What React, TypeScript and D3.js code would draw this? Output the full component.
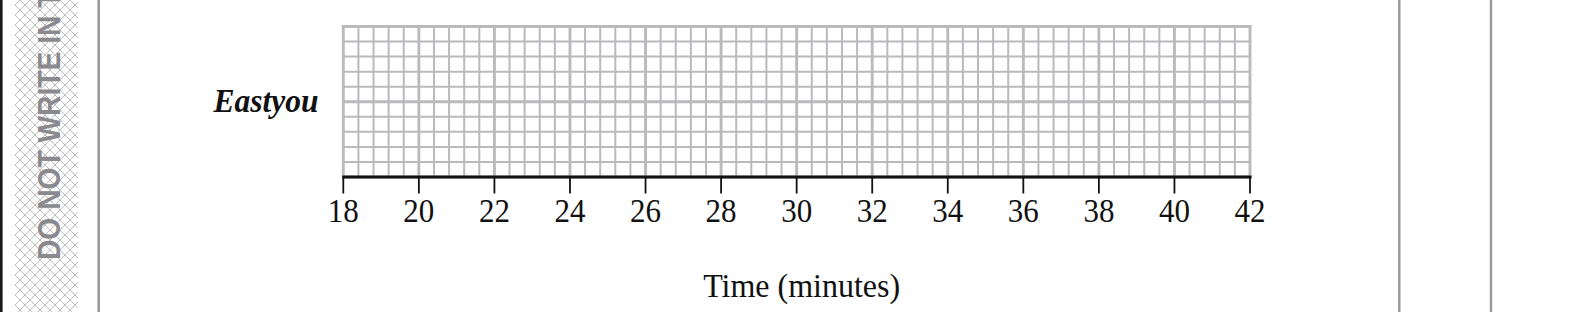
import React from "react";
import * as d3 from "d3";

const timeTicks = [18, 20, 22, 24, 26, 28, 30, 32, 34, 36, 38, 40, 42];
const minorPerMajor = 5;
const rowCount = 10;
const rowLabel = "Eastyou";
const xTitle = "Time (minutes)";
const marginText = "DO NOT WRITE IN THIS AREA";

const W = 1586;
const H = 312;

export default function App() {
  const x = d3.scaleLinear().domain([18, 42]).range([343.3, 1250]);
  const y = d3.scaleLinear().domain([0, rowCount]).range([177, 26.5]);
  const minorX = d3.range(18, 42.0001, 2 / minorPerMajor).filter(
    (v) => Math.abs(((v - 18) / 2) - Math.round((v - 18) / 2)) > 1e-6
  );
  const rows = d3.range(0, rowCount + 1);
  const grid = "#bababe";
  const serif = "'Liberation Serif', 'Times New Roman', serif";
  return (
    <svg
      width={W}
      height={H}
      style={{ position: "absolute", left: 0, top: 0, background: "#fff" }}
    >
      <defs>
        <pattern id="hatch" width="10" height="10" patternUnits="userSpaceOnUse">
          <path d="M0,0 L10,10 M10,0 L0,10" stroke="#bdbdc1" strokeWidth="1" />
        </pattern>
      </defs>
      <rect x={0} y={0} width={2.6} height={H} fill="#1a1a1a" />
      <rect x={15} y={0} width={63} height={H} fill="url(#hatch)" />
      <text
        transform="translate(59.5,260) rotate(-90) scale(0.91,1)"
        fontFamily="'Liberation Sans', Arial, sans-serif"
        fontWeight="bold"
        fontSize={31}
        fill="#8a8a8e"
      >
        {marginText}
      </text>
      <line x1={98.7} x2={98.7} y1={0} y2={H} stroke="#9a9a9e" strokeWidth={2.6} />
      <line x1={1399.3} x2={1399.3} y1={0} y2={H} stroke="#9a9a9e" strokeWidth={2.4} />
      <line x1={1491} x2={1491} y1={0} y2={H} stroke="#9a9a9e" strokeWidth={2.4} />

      {minorX.map((v, i) => (
        <line key={"mx" + i} x1={x(v)} x2={x(v)} y1={y(rowCount)} y2={y(0)} stroke={grid} strokeWidth={2} />
      ))}
      {rows.filter((r) => r % 5 !== 0).map((r) => (
        <line key={"my" + r} x1={x(18)} x2={x(42)} y1={y(r)} y2={y(r)} stroke={grid} strokeWidth={2} />
      ))}
      {timeTicks.map((t) => (
        <line key={"Mx" + t} x1={x(t)} x2={x(t)} y1={y(rowCount) - 1.4} y2={y(0)} stroke={grid} strokeWidth={2.9} />
      ))}
      {rows.filter((r) => r % 5 === 0).map((r) => (
        <line key={"My" + r} x1={x(18) - 1.4} x2={x(42) + 1.4} y1={y(r)} y2={y(r)} stroke={grid} strokeWidth={2.9} />
      ))}

      <line x1={x(18) - 1} x2={x(42) + 1.5} y1={y(0)} y2={y(0)} stroke="#111" strokeWidth={3.2} />
      {timeTicks.map((t) => (
        <g key={"t" + t}>
          <line x1={x(t)} x2={x(t)} y1={y(0)} y2={193.5} stroke="#111" strokeWidth={1.8} />
          <text
            transform={`translate(${x(t)},221.5) scale(1,1.08)`}
            textAnchor="middle"
            fontFamily={serif}
            fontSize={31}
            fill="#111"
          >
            {t}
          </text>
        </g>
      ))}
      <text
        transform="translate(318.5,111.7) scale(1,1.1)"
        textAnchor="end"
        fontFamily={serif}
        fontWeight="bold"
        fontStyle="italic"
        fontSize={31.5}
        fill="#111"
      >
        {rowLabel}
      </text>
      <text
        transform={`translate(${x(30) + 5},297.3) scale(1,1.08)`}
        textAnchor="middle"
        fontFamily={serif}
        fontSize={32}
        fill="#111"
      >
        {xTitle}
      </text>
    </svg>
  );
}
